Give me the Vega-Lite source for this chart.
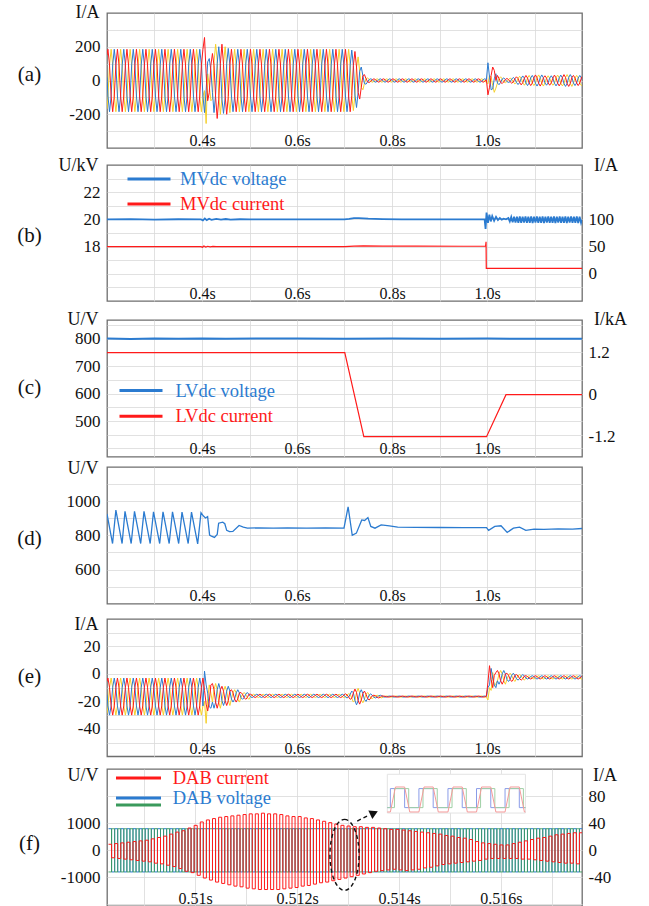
{
"$schema": "https://vega.github.io/schema/vega-lite/v6.json",
"background": "white",
"padding": {"left": 16, "top": 2, "right": 5, "bottom": 2},
"config": {
 "font": "Liberation Serif",
 "view": {"stroke": "#6e6e6e", "strokeWidth": 1.3},
 "style": {"guide-label": {"font": "Liberation Serif"}, "guide-title": {"font": "Liberation Serif"}},
 "axis": {"domain": false, "ticks": false, "tickSize": 0, "labelFont": "Liberation Serif", "labelFontSize": 17, "labelColor": "#111111", "titleFont": "Liberation Serif", "titleFontSize": 18, "titleFontWeight": "normal", "titleColor": "#111111", "gridColor": "#d9d9d9", "gridWidth": 0.8, "labelOverlap": false, "labelFlush": false, "titlePadding": 0},
 "axisX": {"labelFont": "Liberation Serif", "titleFont": "Liberation Serif", "labelFontSize": 16, "labelBaseline": "middle", "labelPadding": -8, "titleAlign": "right", "titleBaseline": "middle", "titleX": -8, "titleAngle": 0, "grid": true},
 "axisLeft": {"labelFont": "Liberation Serif", "titleFont": "Liberation Serif", "titleAngle": 0, "titleAlign": "center", "titleBaseline": "middle", "titleX": -78, "titleFontSize": 21, "labelPadding": 7, "grid": true},
 "axisRight": {"labelFont": "Liberation Serif", "titleFont": "Liberation Serif", "titleAngle": 0, "titleAlign": "center", "titleBaseline": "middle", "labelPadding": 6, "labelAlign": "left", "grid": false},
 "legend": {"labelFont": "Liberation Serif", "labelFontSize": 18.5, "padding": 0}
},
"datasets": {
 "main": [
{"t":0.2,"r":150,"y":-168,"b":18,"er":-5.6,"ey":-28.8,"eb":-15.2},
{"t":0.202,"r":185,"y":-92,"b":-92,"er":-3,"ey":-23.3,"eb":-23.3},
{"t":0.2053,"r":92,"y":92,"b":-185,"er":-9.8,"ey":-9.8,"eb":-30},
{"t":0.2087,"r":-92,"y":185,"b":-92,"er":-23.3,"ey":-3,"eb":-23.3},
{"t":0.212,"r":-185,"y":92,"b":92,"er":-30,"ey":-9.8,"eb":-9.8},
{"t":0.2153,"r":-92,"y":-92,"b":185,"er":-23.3,"ey":-23.3,"eb":-3},
{"t":0.2187,"r":92,"y":-185,"b":92,"er":-9.8,"ey":-30,"eb":-9.8},
{"t":0.222,"r":185,"y":-92,"b":-92,"er":-3,"ey":-23.3,"eb":-23.3},
{"t":0.2253,"r":92,"y":92,"b":-185,"er":-9.8,"ey":-9.8,"eb":-30},
{"t":0.2287,"r":-92,"y":185,"b":-92,"er":-23.3,"ey":-3,"eb":-23.3},
{"t":0.232,"r":-185,"y":92,"b":92,"er":-30,"ey":-9.8,"eb":-9.8},
{"t":0.2353,"r":-92,"y":-92,"b":185,"er":-23.3,"ey":-23.3,"eb":-3},
{"t":0.2387,"r":92,"y":-185,"b":92,"er":-9.8,"ey":-30,"eb":-9.8},
{"t":0.242,"r":185,"y":-92,"b":-92,"er":-3,"ey":-23.3,"eb":-23.3},
{"t":0.2453,"r":92,"y":92,"b":-185,"er":-9.8,"ey":-9.8,"eb":-30},
{"t":0.2487,"r":-92,"y":185,"b":-92,"er":-23.3,"ey":-3,"eb":-23.3},
{"t":0.252,"r":-185,"y":92,"b":92,"er":-30,"ey":-9.8,"eb":-9.8},
{"t":0.2553,"r":-92,"y":-92,"b":185,"er":-23.3,"ey":-23.3,"eb":-3},
{"t":0.2587,"r":92,"y":-185,"b":92,"er":-9.8,"ey":-30,"eb":-9.8},
{"t":0.262,"r":185,"y":-92,"b":-92,"er":-3,"ey":-23.3,"eb":-23.3},
{"t":0.2653,"r":92,"y":92,"b":-185,"er":-9.8,"ey":-9.8,"eb":-30},
{"t":0.2687,"r":-92,"y":185,"b":-92,"er":-23.3,"ey":-3,"eb":-23.3},
{"t":0.272,"r":-185,"y":92,"b":92,"er":-30,"ey":-9.8,"eb":-9.8},
{"t":0.2753,"r":-92,"y":-92,"b":185,"er":-23.3,"ey":-23.3,"eb":-3},
{"t":0.2787,"r":92,"y":-185,"b":92,"er":-9.8,"ey":-30,"eb":-9.8},
{"t":0.282,"r":185,"y":-92,"b":-92,"er":-3,"ey":-23.3,"eb":-23.3},
{"t":0.2853,"r":92,"y":92,"b":-185,"er":-9.8,"ey":-9.8,"eb":-30},
{"t":0.2887,"r":-92,"y":185,"b":-92,"er":-23.3,"ey":-3,"eb":-23.3},
{"t":0.292,"r":-185,"y":92,"b":92,"er":-30,"ey":-9.8,"eb":-9.8},
{"t":0.2953,"r":-92,"y":-92,"b":185,"er":-23.3,"ey":-23.3,"eb":-3},
{"t":0.2987,"r":92,"y":-185,"b":92,"er":-9.8,"ey":-30,"eb":-9.8},
{"t":0.302,"r":185,"y":-92,"b":-92,"er":-3,"ey":-23.3,"eb":-23.3},
{"t":0.3053,"r":92,"y":92,"b":-185,"er":-9.8,"ey":-9.8,"eb":-30},
{"t":0.3087,"r":-92,"y":185,"b":-92,"er":-23.3,"ey":-3,"eb":-23.3},
{"t":0.312,"r":-185,"y":92,"b":92,"er":-30,"ey":-9.8,"eb":-9.8},
{"t":0.3153,"r":-92,"y":-92,"b":185,"er":-23.3,"ey":-23.3,"eb":-3},
{"t":0.3187,"r":92,"y":-185,"b":92,"er":-9.8,"ey":-30,"eb":-9.8},
{"t":0.322,"r":185,"y":-92,"b":-92,"er":-3,"ey":-23.3,"eb":-23.3},
{"t":0.3253,"r":92,"y":92,"b":-185,"er":-9.8,"ey":-9.8,"eb":-30},
{"t":0.3287,"r":-92,"y":185,"b":-92,"er":-23.3,"ey":-3,"eb":-23.3},
{"t":0.332,"r":-185,"y":92,"b":92,"er":-30,"ey":-9.8,"eb":-9.8},
{"t":0.3353,"r":-92,"y":-92,"b":185,"er":-23.3,"ey":-23.3,"eb":-3},
{"t":0.3387,"r":92,"y":-185,"b":92,"er":-9.8,"ey":-30,"eb":-9.8},
{"t":0.342,"r":185,"y":-92,"b":-92,"er":-3,"ey":-23.3,"eb":-23.3},
{"t":0.3453,"r":92,"y":92,"b":-185,"er":-9.8,"ey":-9.8,"eb":-30},
{"t":0.3487,"r":-92,"y":185,"b":-92,"er":-23.3,"ey":-3,"eb":-23.3},
{"t":0.352,"r":-185,"y":92,"b":92,"er":-30,"ey":-9.8,"eb":-9.8},
{"t":0.3553,"r":-92,"y":-92,"b":185,"er":-23.3,"ey":-23.3,"eb":-3},
{"t":0.3587,"r":92,"y":-185,"b":92,"er":-9.8,"ey":-30,"eb":-9.8},
{"t":0.362,"r":185,"y":-92,"b":-92,"er":-3,"ey":-23.3,"eb":-23.3},
{"t":0.3653,"r":92,"y":92,"b":-185,"er":-9.8,"ey":-9.8,"eb":-30},
{"t":0.3687,"r":-92,"y":185,"b":-92,"er":-23.3,"ey":-3,"eb":-23.3},
{"t":0.372,"r":-185,"y":92,"b":92,"er":-30,"ey":-9.8,"eb":-9.8},
{"t":0.3753,"r":-92,"y":-92,"b":185,"er":-23.3,"ey":-23.3,"eb":-3},
{"t":0.3787,"r":92,"y":-185,"b":92,"er":-9.8,"ey":-30,"eb":-9.8},
{"t":0.382,"r":185,"y":-92,"b":-92,"er":-3,"ey":-23.3,"eb":-23.3},
{"t":0.3853,"r":92,"y":92,"b":-185,"er":-9.8,"ey":-9.8,"eb":-30},
{"t":0.3887,"r":-92,"y":185,"b":-92,"er":-23.3,"ey":-3,"eb":-23.3},
{"t":0.392,"r":-185,"y":92,"b":92,"er":-30,"ey":-9.8,"eb":-9.8},
{"t":0.3953,"r":-92,"y":-92,"b":185,"er":-23.3,"ey":-23.3,"eb":-3},
{"t":0.3987,"r":92,"y":-185,"b":92,"er":-9.8,"ey":-30,"eb":-9.8},
{"t":0.402,"r":185,"y":-92,"b":-92,"er":-3,"ey":-23.3,"eb":-23.3},
{"t":0.4053,"r":255,"y":-60,"b":-190,"er":-12,"ey":-20,"eb":2},
{"t":0.4087,"r":40,"y":-255,"b":-60,"er":-22,"ey":-36,"eb":-8},
{"t":0.412,"r":-120,"y":40,"b":110,"er":-27,"ey":-18,"eb":-14},
{"t":0.4153,"r":-70,"y":-30,"b":130,"er":-20,"ey":-8,"eb":-24},
{"t":0.4187,"r":90,"y":-120,"b":60,"er":-8,"ey":-14,"eb":-25},
{"t":0.422,"r":160,"y":-110,"b":-70,"er":-7,"ey":-20.5,"eb":-20.5},
{"t":0.4253,"r":90,"y":110,"b":-190,"er":-11.5,"ey":-11.5,"eb":-25},
{"t":0.4287,"r":-100,"y":215,"b":-80,"er":-20.5,"ey":-7,"eb":-20.5},
{"t":0.432,"r":-225,"y":120,"b":100,"er":-25,"ey":-11.5,"eb":-11.5},
{"t":0.4353,"r":-110,"y":-90,"b":200,"er":-20.5,"ey":-20.5,"eb":-7},
{"t":0.4387,"r":100,"y":-200,"b":90,"er":-11.5,"ey":-25,"eb":-11.5},
{"t":0.442,"r":215,"y":-100,"b":-110,"er":-9,"ey":-19.5,"eb":-19.5},
{"t":0.4453,"r":95,"y":100,"b":-195,"er":-12.5,"ey":-12.5,"eb":-23},
{"t":0.4487,"r":-90,"y":200,"b":-100,"er":-19.5,"ey":-9,"eb":-19.5},
{"t":0.452,"r":-200,"y":95,"b":100,"er":-23,"ey":-12.5,"eb":-12.5},
{"t":0.4553,"r":-95,"y":-95,"b":190,"er":-19.5,"ey":-19.5,"eb":-9},
{"t":0.4587,"r":92,"y":-190,"b":92,"er":-12.5,"ey":-23,"eb":-12.5},
{"t":0.462,"r":185,"y":-92,"b":-92,"er":-11.5,"ey":-18.3,"eb":-18.3},
{"t":0.4653,"r":92,"y":92,"b":-185,"er":-13.8,"ey":-13.8,"eb":-20.5},
{"t":0.4687,"r":-92,"y":185,"b":-92,"er":-18.3,"ey":-11.5,"eb":-18.3},
{"t":0.472,"r":-185,"y":92,"b":92,"er":-20.5,"ey":-13.8,"eb":-13.8},
{"t":0.4753,"r":-92,"y":-92,"b":185,"er":-18.3,"ey":-18.3,"eb":-11.5},
{"t":0.4787,"r":92,"y":-185,"b":92,"er":-13.8,"ey":-20.5,"eb":-13.8},
{"t":0.482,"r":185,"y":-92,"b":-92,"er":-13.5,"ey":-17.3,"eb":-17.3},
{"t":0.4853,"r":92,"y":92,"b":-185,"er":-14.8,"ey":-14.8,"eb":-18.5},
{"t":0.4887,"r":-92,"y":185,"b":-92,"er":-17.3,"ey":-13.5,"eb":-17.3},
{"t":0.492,"r":-185,"y":92,"b":92,"er":-18.5,"ey":-14.8,"eb":-14.8},
{"t":0.4953,"r":-92,"y":-92,"b":185,"er":-17.3,"ey":-17.3,"eb":-13.5},
{"t":0.4987,"r":92,"y":-185,"b":92,"er":-14.8,"ey":-18.5,"eb":-14.8},
{"t":0.502,"r":185,"y":-92,"b":-92,"er":-14.8,"ey":-16.6,"eb":-16.6},
{"t":0.5053,"r":92,"y":92,"b":-185,"er":-15.4,"ey":-15.4,"eb":-17.2},
{"t":0.5087,"r":-92,"y":185,"b":-92,"er":-16.6,"ey":-14.8,"eb":-16.6},
{"t":0.512,"r":-185,"y":92,"b":92,"er":-17.2,"ey":-15.4,"eb":-15.4},
{"t":0.5153,"r":-92,"y":-92,"b":185,"er":-16.6,"ey":-16.6,"eb":-14.8},
{"t":0.5187,"r":92,"y":-185,"b":92,"er":-15.4,"ey":-17.2,"eb":-15.4},
{"t":0.522,"r":185,"y":-92,"b":-92,"er":-14.8,"ey":-16.6,"eb":-16.6},
{"t":0.5253,"r":92,"y":92,"b":-185,"er":-15.4,"ey":-15.4,"eb":-17.2},
{"t":0.5287,"r":-92,"y":185,"b":-92,"er":-16.6,"ey":-14.8,"eb":-16.6},
{"t":0.532,"r":-185,"y":92,"b":92,"er":-17.2,"ey":-15.4,"eb":-15.4},
{"t":0.5353,"r":-92,"y":-92,"b":185,"er":-16.6,"ey":-16.6,"eb":-14.8},
{"t":0.5387,"r":92,"y":-185,"b":92,"er":-15.4,"ey":-17.2,"eb":-15.4},
{"t":0.542,"r":185,"y":-92,"b":-92,"er":-14.8,"ey":-16.6,"eb":-16.6},
{"t":0.5453,"r":92,"y":92,"b":-185,"er":-15.4,"ey":-15.4,"eb":-17.2},
{"t":0.5487,"r":-92,"y":185,"b":-92,"er":-16.6,"ey":-14.8,"eb":-16.6},
{"t":0.552,"r":-185,"y":92,"b":92,"er":-17.2,"ey":-15.4,"eb":-15.4},
{"t":0.5553,"r":-92,"y":-92,"b":185,"er":-16.6,"ey":-16.6,"eb":-14.8},
{"t":0.5587,"r":92,"y":-185,"b":92,"er":-15.4,"ey":-17.2,"eb":-15.4},
{"t":0.562,"r":185,"y":-92,"b":-92,"er":-14.8,"ey":-16.6,"eb":-16.6},
{"t":0.5653,"r":92,"y":92,"b":-185,"er":-15.4,"ey":-15.4,"eb":-17.2},
{"t":0.5687,"r":-92,"y":185,"b":-92,"er":-16.6,"ey":-14.8,"eb":-16.6},
{"t":0.572,"r":-185,"y":92,"b":92,"er":-17.2,"ey":-15.4,"eb":-15.4},
{"t":0.5753,"r":-92,"y":-92,"b":185,"er":-16.6,"ey":-16.6,"eb":-14.8},
{"t":0.5787,"r":92,"y":-185,"b":92,"er":-15.4,"ey":-17.2,"eb":-15.4},
{"t":0.582,"r":185,"y":-92,"b":-92,"er":-14.8,"ey":-16.6,"eb":-16.6},
{"t":0.5853,"r":92,"y":92,"b":-185,"er":-15.4,"ey":-15.4,"eb":-17.2},
{"t":0.5887,"r":-92,"y":185,"b":-92,"er":-16.6,"ey":-14.8,"eb":-16.6},
{"t":0.592,"r":-185,"y":92,"b":92,"er":-17.2,"ey":-15.4,"eb":-15.4},
{"t":0.5953,"r":-92,"y":-92,"b":185,"er":-16.6,"ey":-16.6,"eb":-14.8},
{"t":0.5987,"r":92,"y":-185,"b":92,"er":-15.4,"ey":-17.2,"eb":-15.4},
{"t":0.602,"r":185,"y":-92,"b":-92,"er":-14.8,"ey":-16.6,"eb":-16.6},
{"t":0.6053,"r":92,"y":92,"b":-185,"er":-15.4,"ey":-15.4,"eb":-17.2},
{"t":0.6087,"r":-92,"y":185,"b":-92,"er":-16.6,"ey":-14.8,"eb":-16.6},
{"t":0.612,"r":-185,"y":92,"b":92,"er":-17.2,"ey":-15.4,"eb":-15.4},
{"t":0.6153,"r":-92,"y":-92,"b":185,"er":-16.6,"ey":-16.6,"eb":-14.8},
{"t":0.6187,"r":92,"y":-185,"b":92,"er":-15.4,"ey":-17.2,"eb":-15.4},
{"t":0.622,"r":185,"y":-92,"b":-92,"er":-14.8,"ey":-16.6,"eb":-16.6},
{"t":0.6253,"r":92,"y":92,"b":-185,"er":-15.4,"ey":-15.4,"eb":-17.2},
{"t":0.6287,"r":-92,"y":185,"b":-92,"er":-16.6,"ey":-14.8,"eb":-16.6},
{"t":0.632,"r":-185,"y":92,"b":92,"er":-17.2,"ey":-15.4,"eb":-15.4},
{"t":0.6353,"r":-92,"y":-92,"b":185,"er":-16.6,"ey":-16.6,"eb":-14.8},
{"t":0.6387,"r":92,"y":-185,"b":92,"er":-15.4,"ey":-17.2,"eb":-15.4},
{"t":0.642,"r":185,"y":-92,"b":-92,"er":-14.8,"ey":-16.6,"eb":-16.6},
{"t":0.6453,"r":92,"y":92,"b":-185,"er":-15.4,"ey":-15.4,"eb":-17.2},
{"t":0.6487,"r":-92,"y":185,"b":-92,"er":-16.6,"ey":-14.8,"eb":-16.6},
{"t":0.652,"r":-185,"y":92,"b":92,"er":-17.2,"ey":-15.4,"eb":-15.4},
{"t":0.6553,"r":-92,"y":-92,"b":185,"er":-16.6,"ey":-16.6,"eb":-14.8},
{"t":0.6587,"r":92,"y":-185,"b":92,"er":-15.4,"ey":-17.2,"eb":-15.4},
{"t":0.662,"r":185,"y":-92,"b":-92,"er":-14.8,"ey":-16.6,"eb":-16.6},
{"t":0.6653,"r":92,"y":92,"b":-185,"er":-15.4,"ey":-15.4,"eb":-17.2},
{"t":0.6687,"r":-92,"y":185,"b":-92,"er":-16.6,"ey":-14.8,"eb":-16.6},
{"t":0.672,"r":-185,"y":92,"b":92,"er":-17.2,"ey":-15.4,"eb":-15.4},
{"t":0.6753,"r":-92,"y":-92,"b":185,"er":-16.6,"ey":-16.6,"eb":-14.8},
{"t":0.6787,"r":92,"y":-185,"b":92,"er":-15.4,"ey":-17.2,"eb":-15.4},
{"t":0.682,"r":185,"y":-92,"b":-92,"er":-14.8,"ey":-16.6,"eb":-16.6},
{"t":0.6853,"r":92,"y":92,"b":-185,"er":-15.4,"ey":-15.4,"eb":-17.2},
{"t":0.6887,"r":-92,"y":185,"b":-92,"er":-16.6,"ey":-14.8,"eb":-16.6},
{"t":0.692,"r":-185,"y":92,"b":92,"er":-17.2,"ey":-15.4,"eb":-15.4},
{"t":0.6953,"r":-92,"y":-92,"b":185,"er":-16.6,"ey":-16.6,"eb":-14.8},
{"t":0.6987,"r":92,"y":-185,"b":92,"er":-15.4,"ey":-17.2,"eb":-15.4},
{"t":0.702,"r":185,"y":-92,"b":-92,"er":-14.5,"ey":-16.8,"eb":-16.8},
{"t":0.7053,"r":92,"y":92,"b":-185,"er":-15.3,"ey":-15.3,"eb":-17.5},
{"t":0.7087,"r":-92,"y":185,"b":-92,"er":-16.8,"ey":-14.5,"eb":-16.8},
{"t":0.712,"r":-185,"y":92,"b":92,"er":-18.5,"ey":-14.8,"eb":-14.8},
{"t":0.7153,"r":-90,"y":-90,"b":180,"er":-17.8,"ey":-17.8,"eb":-12.5},
{"t":0.7187,"r":89,"y":-178,"b":89,"er":-13.8,"ey":-20.5,"eb":-13.8},
{"t":0.722,"r":172,"y":-86,"b":-86,"er":-11,"ey":-19.3,"eb":-19.3},
{"t":0.7253,"r":80,"y":80,"b":-160,"er":-13.5,"ey":-13.5,"eb":-22.5},
{"t":0.7287,"r":-70,"y":140,"b":-70,"er":-19.5,"ey":-10.5,"eb":-19.5},
{"t":0.732,"r":-110,"y":55,"b":55,"er":-22,"ey":-13.8,"eb":-13.8},
{"t":0.7353,"r":-40,"y":-40,"b":80,"er":-19,"ey":-19,"eb":-11.5},
{"t":0.7387,"r":28,"y":-55,"b":28,"er":-14.3,"ey":-21,"eb":-14.3},
{"t":0.742,"r":35,"y":-18,"b":-18,"er":-12.5,"ey":-18.5,"eb":-18.5},
{"t":0.7453,"r":11,"y":11,"b":-22,"er":-14.8,"ey":-14.8,"eb":-20},
{"t":0.7487,"r":-8,"y":15,"b":-8,"er":-18,"ey":-13.5,"eb":-18},
{"t":0.752,"r":-12,"y":6,"b":6,"er":-19,"ey":-15.3,"eb":-15.3},
{"t":0.7553,"r":-5,"y":-5,"b":10,"er":-17.5,"ey":-17.5,"eb":-14.5},
{"t":0.7587,"r":5,"y":-10,"b":5,"er":-15.8,"ey":-18,"eb":-15.8},
{"t":0.762,"r":10,"y":-5,"b":-5,"er":-15.5,"ey":-17,"eb":-17},
{"t":0.7653,"r":5,"y":5,"b":-10,"er":-16,"ey":-16,"eb":-17.5},
{"t":0.7687,"r":-5,"y":10,"b":-5,"er":-17,"ey":-15.5,"eb":-17},
{"t":0.772,"r":-10,"y":5,"b":5,"er":-17.5,"ey":-16,"eb":-16},
{"t":0.7753,"r":-5,"y":-5,"b":10,"er":-17,"ey":-17,"eb":-15.5},
{"t":0.7787,"r":5,"y":-10,"b":5,"er":-16,"ey":-17.5,"eb":-16},
{"t":0.782,"r":10,"y":-5,"b":-5,"er":-16.1,"ey":-16.7,"eb":-16.7},
{"t":0.7853,"r":5,"y":5,"b":-10,"er":-16.3,"ey":-16.3,"eb":-16.9},
{"t":0.7887,"r":-5,"y":10,"b":-5,"er":-16.7,"ey":-16.1,"eb":-16.7},
{"t":0.792,"r":-10,"y":5,"b":5,"er":-16.9,"ey":-16.3,"eb":-16.3},
{"t":0.7953,"r":-5,"y":-5,"b":10,"er":-16.7,"ey":-16.7,"eb":-16.1},
{"t":0.7987,"r":5,"y":-10,"b":5,"er":-16.3,"ey":-16.9,"eb":-16.3},
{"t":0.802,"r":10,"y":-5,"b":-5,"er":-16.1,"ey":-16.7,"eb":-16.7},
{"t":0.8053,"r":5,"y":5,"b":-10,"er":-16.3,"ey":-16.3,"eb":-16.9},
{"t":0.8087,"r":-5,"y":10,"b":-5,"er":-16.7,"ey":-16.1,"eb":-16.7},
{"t":0.812,"r":-10,"y":5,"b":5,"er":-16.9,"ey":-16.3,"eb":-16.3},
{"t":0.8153,"r":-5,"y":-5,"b":10,"er":-16.7,"ey":-16.7,"eb":-16.1},
{"t":0.8187,"r":5,"y":-10,"b":5,"er":-16.3,"ey":-16.9,"eb":-16.3},
{"t":0.822,"r":10,"y":-5,"b":-5,"er":-16.1,"ey":-16.7,"eb":-16.7},
{"t":0.8253,"r":5,"y":5,"b":-10,"er":-16.3,"ey":-16.3,"eb":-16.9},
{"t":0.8287,"r":-5,"y":10,"b":-5,"er":-16.7,"ey":-16.1,"eb":-16.7},
{"t":0.832,"r":-10,"y":5,"b":5,"er":-16.9,"ey":-16.3,"eb":-16.3},
{"t":0.8353,"r":-5,"y":-5,"b":10,"er":-16.7,"ey":-16.7,"eb":-16.1},
{"t":0.8387,"r":5,"y":-10,"b":5,"er":-16.3,"ey":-16.9,"eb":-16.3},
{"t":0.842,"r":10,"y":-5,"b":-5,"er":-16.1,"ey":-16.7,"eb":-16.7},
{"t":0.8453,"r":5,"y":5,"b":-10,"er":-16.3,"ey":-16.3,"eb":-16.9},
{"t":0.8487,"r":-5,"y":10,"b":-5,"er":-16.7,"ey":-16.1,"eb":-16.7},
{"t":0.852,"r":-10,"y":5,"b":5,"er":-16.9,"ey":-16.3,"eb":-16.3},
{"t":0.8553,"r":-5,"y":-5,"b":10,"er":-16.7,"ey":-16.7,"eb":-16.1},
{"t":0.8587,"r":5,"y":-10,"b":5,"er":-16.3,"ey":-16.9,"eb":-16.3},
{"t":0.862,"r":10,"y":-5,"b":-5,"er":-16.1,"ey":-16.7,"eb":-16.7},
{"t":0.8653,"r":5,"y":5,"b":-10,"er":-16.3,"ey":-16.3,"eb":-16.9},
{"t":0.8687,"r":-5,"y":10,"b":-5,"er":-16.7,"ey":-16.1,"eb":-16.7},
{"t":0.872,"r":-10,"y":5,"b":5,"er":-16.9,"ey":-16.3,"eb":-16.3},
{"t":0.8753,"r":-5,"y":-5,"b":10,"er":-16.7,"ey":-16.7,"eb":-16.1},
{"t":0.8787,"r":5,"y":-10,"b":5,"er":-16.3,"ey":-16.9,"eb":-16.3},
{"t":0.882,"r":10,"y":-5,"b":-5,"er":-16.1,"ey":-16.7,"eb":-16.7},
{"t":0.8853,"r":5,"y":5,"b":-10,"er":-16.3,"ey":-16.3,"eb":-16.9},
{"t":0.8887,"r":-5,"y":10,"b":-5,"er":-16.7,"ey":-16.1,"eb":-16.7},
{"t":0.892,"r":-10,"y":5,"b":5,"er":-16.9,"ey":-16.3,"eb":-16.3},
{"t":0.8953,"r":-5,"y":-5,"b":10,"er":-16.7,"ey":-16.7,"eb":-16.1},
{"t":0.8987,"r":5,"y":-10,"b":5,"er":-16.3,"ey":-16.9,"eb":-16.3},
{"t":0.902,"r":10,"y":-5,"b":-5,"er":-16.1,"ey":-16.7,"eb":-16.7},
{"t":0.9053,"r":5,"y":5,"b":-10,"er":-16.3,"ey":-16.3,"eb":-16.9},
{"t":0.9087,"r":-5,"y":10,"b":-5,"er":-16.7,"ey":-16.1,"eb":-16.7},
{"t":0.912,"r":-10,"y":5,"b":5,"er":-16.9,"ey":-16.3,"eb":-16.3},
{"t":0.9153,"r":-5,"y":-5,"b":10,"er":-16.7,"ey":-16.7,"eb":-16.1},
{"t":0.9187,"r":5,"y":-10,"b":5,"er":-16.3,"ey":-16.9,"eb":-16.3},
{"t":0.922,"r":10,"y":-5,"b":-5,"er":-16.1,"ey":-16.7,"eb":-16.7},
{"t":0.9253,"r":5,"y":5,"b":-10,"er":-16.3,"ey":-16.3,"eb":-16.9},
{"t":0.9287,"r":-5,"y":10,"b":-5,"er":-16.7,"ey":-16.1,"eb":-16.7},
{"t":0.932,"r":-10,"y":5,"b":5,"er":-16.9,"ey":-16.3,"eb":-16.3},
{"t":0.9353,"r":-5,"y":-5,"b":10,"er":-16.7,"ey":-16.7,"eb":-16.1},
{"t":0.9387,"r":5,"y":-10,"b":5,"er":-16.3,"ey":-16.9,"eb":-16.3},
{"t":0.942,"r":10,"y":-5,"b":-5,"er":-16.1,"ey":-16.7,"eb":-16.7},
{"t":0.9453,"r":5,"y":5,"b":-10,"er":-16.3,"ey":-16.3,"eb":-16.9},
{"t":0.9487,"r":-5,"y":10,"b":-5,"er":-16.7,"ey":-16.1,"eb":-16.7},
{"t":0.952,"r":-10,"y":5,"b":5,"er":-16.9,"ey":-16.3,"eb":-16.3},
{"t":0.9553,"r":-5,"y":-5,"b":10,"er":-16.7,"ey":-16.7,"eb":-16.1},
{"t":0.9587,"r":5,"y":-10,"b":5,"er":-16.3,"ey":-16.9,"eb":-16.3},
{"t":0.962,"r":10,"y":-5,"b":-5,"er":-16.1,"ey":-16.7,"eb":-16.7},
{"t":0.9653,"r":5,"y":5,"b":-10,"er":-16.3,"ey":-16.3,"eb":-16.9},
{"t":0.9687,"r":-5,"y":10,"b":-5,"er":-16.7,"ey":-16.1,"eb":-16.7},
{"t":0.972,"r":-10,"y":5,"b":5,"er":-16.9,"ey":-16.3,"eb":-16.3},
{"t":0.9753,"r":-5,"y":-5,"b":10,"er":-16.7,"ey":-16.7,"eb":-16.1},
{"t":0.9787,"r":5,"y":-10,"b":5,"er":-16.3,"ey":-16.9,"eb":-16.3},
{"t":0.982,"r":10,"y":-5,"b":-5,"er":-16.1,"ey":-16.7,"eb":-16.7},
{"t":0.9853,"r":5,"y":5,"b":-10,"er":-16.3,"ey":-16.3,"eb":-16.9},
{"t":0.9887,"r":-5,"y":10,"b":-5,"er":-16.7,"ey":-16.1,"eb":-16.7},
{"t":0.992,"r":-10,"y":5,"b":5,"er":-16.9,"ey":-16.3,"eb":-16.3},
{"t":0.9953,"r":-5,"y":-5,"b":10,"er":-16.7,"ey":-16.7,"eb":-16.1},
{"t":0.9987,"r":5,"y":-10,"b":5,"er":-16.3,"ey":-16.9,"eb":-16.3},
{"t":1.002,"r":-85,"y":-20,"b":105,"er":-6,"ey":-19,"eb":-10},
{"t":1.0053,"r":-40,"y":30,"b":20,"er":6,"ey":-10,"eb":-8},
{"t":1.0087,"r":30,"y":20,"b":-55,"er":-4,"ey":-12,"eb":4},
{"t":1.012,"r":80,"y":-30,"b":-50,"er":-10,"ey":1,"eb":-3},
{"t":1.0153,"r":60,"y":-70,"b":10,"er":-1,"ey":-9,"eb":-8},
{"t":1.0187,"r":0,"y":-45,"b":40,"er":1,"ey":-7,"eb":-10},
{"t":1.022,"r":30,"y":-15,"b":-15,"er":2.5,"ey":-5,"eb":-5},
{"t":1.0253,"r":12,"y":12,"b":-25,"er":0,"ey":0,"eb":-7.5},
{"t":1.0287,"r":-11,"y":22,"b":-11,"er":-5,"ey":2.5,"eb":-5},
{"t":1.032,"r":-18,"y":9,"b":9,"er":-7.5,"ey":0,"eb":0},
{"t":1.0353,"r":-8,"y":-8,"b":15,"er":-5,"ey":-5,"eb":2.5},
{"t":1.0387,"r":6,"y":-13,"b":6,"er":0,"ey":-7.5,"eb":0},
{"t":1.042,"r":12,"y":-6,"b":-6,"er":0.5,"ey":-4,"eb":-4},
{"t":1.0453,"r":6,"y":6,"b":-12,"er":-1,"ey":-1,"eb":-5.5},
{"t":1.0487,"r":-7,"y":14,"b":-7,"er":-4,"ey":0.5,"eb":-4},
{"t":1.052,"r":-16,"y":8,"b":8,"er":-5.5,"ey":-1,"eb":-1},
{"t":1.0553,"r":-9,"y":-9,"b":18,"er":-4,"ey":-4,"eb":0.5},
{"t":1.0587,"r":10,"y":-20,"b":10,"er":-1,"ey":-5.5,"eb":-1},
{"t":1.062,"r":22,"y":-11,"b":-11,"er":-0.5,"ey":-3.5,"eb":-3.5},
{"t":1.0653,"r":12,"y":12,"b":-24,"er":-1.5,"ey":-1.5,"eb":-4.5},
{"t":1.0687,"r":-12,"y":25,"b":-12,"er":-3.5,"ey":-0.5,"eb":-3.5},
{"t":1.072,"r":-26,"y":13,"b":13,"er":-4.5,"ey":-1.5,"eb":-1.5},
{"t":1.0753,"r":-13,"y":-13,"b":27,"er":-3.5,"ey":-3.5,"eb":-0.5},
{"t":1.0787,"r":14,"y":-28,"b":14,"er":-1.5,"ey":-4.5,"eb":-1.5},
{"t":1.082,"r":30,"y":-15,"b":-15,"er":-1.3,"ey":-3.1,"eb":-3.1},
{"t":1.0853,"r":15,"y":15,"b":-30,"er":-1.9,"ey":-1.9,"eb":-3.7},
{"t":1.0887,"r":-15,"y":30,"b":-15,"er":-3.1,"ey":-1.3,"eb":-3.1},
{"t":1.092,"r":-30,"y":15,"b":15,"er":-3.7,"ey":-1.9,"eb":-1.9},
{"t":1.0953,"r":-15,"y":-15,"b":30,"er":-3.1,"ey":-3.1,"eb":-1.3},
{"t":1.0987,"r":15,"y":-30,"b":15,"er":-1.9,"ey":-3.7,"eb":-1.9},
{"t":1.102,"r":33,"y":-16,"b":-16,"er":-1.3,"ey":-3.1,"eb":-3.1},
{"t":1.1053,"r":16,"y":16,"b":-33,"er":-1.9,"ey":-1.9,"eb":-3.7},
{"t":1.1087,"r":-16,"y":33,"b":-16,"er":-3.1,"ey":-1.3,"eb":-3.1},
{"t":1.112,"r":-33,"y":16,"b":16,"er":-3.7,"ey":-1.9,"eb":-1.9},
{"t":1.1153,"r":-16,"y":-16,"b":33,"er":-3.1,"ey":-3.1,"eb":-1.3},
{"t":1.1187,"r":16,"y":-33,"b":16,"er":-1.9,"ey":-3.7,"eb":-1.9},
{"t":1.122,"r":28,"y":-14,"b":-14,"er":-1.3,"ey":-3.1,"eb":-3.1},
{"t":1.1253,"r":14,"y":14,"b":-28,"er":-1.9,"ey":-1.9,"eb":-3.7},
{"t":1.1287,"r":-14,"y":28,"b":-14,"er":-3.1,"ey":-1.3,"eb":-3.1},
{"t":1.132,"r":-28,"y":14,"b":14,"er":-3.7,"ey":-1.9,"eb":-1.9},
{"t":1.1353,"r":-14,"y":-14,"b":28,"er":-3.1,"ey":-3.1,"eb":-1.3},
{"t":1.1387,"r":14,"y":-28,"b":14,"er":-1.9,"ey":-3.7,"eb":-1.9},
{"t":1.142,"r":32,"y":-16,"b":-16,"er":-1.3,"ey":-3.1,"eb":-3.1},
{"t":1.1453,"r":16,"y":16,"b":-32,"er":-1.9,"ey":-1.9,"eb":-3.7},
{"t":1.1487,"r":-16,"y":32,"b":-16,"er":-3.1,"ey":-1.3,"eb":-3.1},
{"t":1.152,"r":-32,"y":16,"b":16,"er":-3.7,"ey":-1.9,"eb":-1.9},
{"t":1.1553,"r":-16,"y":-16,"b":32,"er":-3.1,"ey":-3.1,"eb":-1.3},
{"t":1.1587,"r":16,"y":-32,"b":16,"er":-1.9,"ey":-3.7,"eb":-1.9},
{"t":1.162,"r":35,"y":-18,"b":-18,"er":-1.3,"ey":-3.1,"eb":-3.1},
{"t":1.1653,"r":18,"y":18,"b":-35,"er":-1.9,"ey":-1.9,"eb":-3.7},
{"t":1.1687,"r":-18,"y":35,"b":-18,"er":-3.1,"ey":-1.3,"eb":-3.1},
{"t":1.172,"r":-35,"y":18,"b":18,"er":-3.7,"ey":-1.9,"eb":-1.9},
{"t":1.1753,"r":-18,"y":-18,"b":35,"er":-3.1,"ey":-3.1,"eb":-1.3},
{"t":1.1787,"r":18,"y":-35,"b":18,"er":-1.9,"ey":-3.7,"eb":-1.9},
{"t":1.182,"r":30,"y":-15,"b":-15,"er":-1.3,"ey":-3.1,"eb":-3.1},
{"t":1.1853,"r":15,"y":15,"b":-30,"er":-1.9,"ey":-1.9,"eb":-3.7},
{"t":1.1887,"r":-15,"y":30,"b":-15,"er":-3.1,"ey":-1.3,"eb":-3.1},
{"t":1.192,"r":-30,"y":15,"b":15,"er":-3.7,"ey":-1.9,"eb":-1.9},
{"t":1.1953,"r":-15,"y":-15,"b":30,"er":-3.1,"ey":-3.1,"eb":-1.3},
{"t":1.1987,"r":15,"y":-30,"b":15,"er":-1.9,"ey":-3.7,"eb":-1.9},
{"t":1.2,"r":24,"y":-27,"b":3,"er":-1.5,"ey":-3.6,"eb":-2.4}
 ],
 "bu": [
{"t":0.2,"v":20.0},{"t":0.25,"v":20.02},{"t":0.3,"v":19.98},{"t":0.35,"v":20.01},{"t":0.398,"v":20.0},{"t":0.402,"v":19.92},{"t":0.406,"v":20.07},{"t":0.41,"v":19.95},{"t":0.415,"v":20.05},{"t":0.42,"v":19.97},{"t":0.43,"v":20.04},{"t":0.44,"v":19.98},{"t":0.45,"v":20.03},{"t":0.46,"v":19.99},{"t":0.48,"v":20.01},{"t":0.5,"v":20.0},{"t":0.6,"v":20.0},{"t":0.7,"v":20.0},{"t":0.71,"v":20.04},{"t":0.72,"v":20.1},{"t":0.73,"v":20.09},{"t":0.75,"v":20.05},{"t":0.78,"v":20.02},{"t":0.82,"v":20.0},{"t":0.9,"v":20.0},{"t":0.995,"v":20.0},{"t":0.997,"v":19.3},{"t":0.999,"v":20.5},{"t":1.002,"v":19.75},{"t":1.005,"v":20.35},{"t":1.008,"v":19.85},{"t":1.011,"v":20.25},{"t":1.015,"v":19.9},{"t":1.019,"v":20.18},{"t":1.023,"v":19.95},{"t":1.027,"v":20.1},{"t":1.031,"v":19.98},{"t":1.035,"v":20.05},{"t":1.04,"v":20.0},{"t":1.045,"v":20.1},{"t":1.048,"v":19.85},
{"t":1.051,"v":20.18},{"t":1.054,"v":19.78},{"t":1.057,"v":20.2},{"t":1.06,"v":19.76},{"t":1.063,"v":20.2},{"t":1.066,"v":19.75},{"t":1.069,"v":20.22},{"t":1.072,"v":19.75},{"t":1.075,"v":20.2},{"t":1.078,"v":19.76},{"t":1.081,"v":20.21},{"t":1.084,"v":19.75},{"t":1.087,"v":20.2},{"t":1.09,"v":19.75},{"t":1.093,"v":20.22},{"t":1.096,"v":19.74},{"t":1.099,"v":20.2},{"t":1.102,"v":19.76},{"t":1.105,"v":20.21},{"t":1.108,"v":19.75},{"t":1.111,"v":20.2},{"t":1.114,"v":19.75},{"t":1.117,"v":20.22},{"t":1.12,"v":19.74},{"t":1.123,"v":20.2},{"t":1.126,"v":19.76},{"t":1.129,"v":20.21},{"t":1.132,"v":19.75},{"t":1.135,"v":20.2},{"t":1.138,"v":19.75},{"t":1.141,"v":20.22},{"t":1.144,"v":19.74},{"t":1.147,"v":20.2},{"t":1.15,"v":19.76},{"t":1.153,"v":20.21},{"t":1.156,"v":19.75},{"t":1.159,"v":20.2},{"t":1.162,"v":19.75},{"t":1.165,"v":20.22},{"t":1.168,"v":19.74},{"t":1.171,"v":20.2},{"t":1.174,"v":19.76},{"t":1.177,"v":20.21},{"t":1.18,"v":19.75},{"t":1.183,"v":20.2},{"t":1.186,"v":19.75},{"t":1.189,"v":20.22},{"t":1.192,"v":19.74},{"t":1.195,"v":20.2},{"t":1.198,"v":19.76},{"t":1.2,"v":20.0}
 ],
 "bi": [
{"t":0.2,"v":50},{"t":0.398,"v":50},{"t":0.401,"v":48.8},{"t":0.404,"v":51},{"t":0.408,"v":49.3},{"t":0.412,"v":50.6},{"t":0.417,"v":49.6},{"t":0.423,"v":50.3},{"t":0.43,"v":50},{"t":0.7,"v":50},{"t":0.72,"v":50.8},{"t":0.74,"v":51.2},{"t":0.78,"v":51},{"t":0.85,"v":50.8},{"t":0.95,"v":50.6},{"t":0.997,"v":50.6},{"t":0.998,"v":59},{"t":0.9985,"v":10},{"t":1.2,"v":10}
 ],
 "cu": [
{"t":0.2,"v":801},{"t":0.25,"v":799},{"t":0.3,"v":801},{"t":0.35,"v":799.5},{"t":0.4,"v":801},{"t":0.45,"v":800},{"t":0.6,"v":800.5},{"t":0.7,"v":799.5},{"t":0.8,"v":800.5},{"t":0.9,"v":799.5},{"t":1.0,"v":800.5},{"t":1.1,"v":799.5},{"t":1.2,"v":800}
 ],
 "ci": [
{"t":0.2,"v":1.2},{"t":0.7006,"v":1.2},{"t":0.7407,"v":-1.2},{"t":0.999,"v":-1.2},{"t":1.04,"v":0},{"t":1.2,"v":0}
 ],
 "d": [
{"t":0.2,"v":925},{"t":0.2117,"v":752},{"t":0.2187,"v":948},{"t":0.2318,"v":752},{"t":0.2379,"v":940},{"t":0.2509,"v":752},{"t":0.2579,"v":940},{"t":0.2709,"v":752},{"t":0.2779,"v":940},{"t":0.2909,"v":752},{"t":0.2979,"v":938},{"t":0.3109,"v":752},{"t":0.3179,"v":938},{"t":0.3309,"v":752},{"t":0.3379,"v":938},{"t":0.3509,"v":752},{"t":0.3579,"v":936},{"t":0.3709,"v":752},{"t":0.3779,"v":936},{"t":0.3909,"v":750},{"t":0.3979,"v":932},{"t":0.4031,"v":913},{"t":0.4074,"v":902},{"t":0.4118,"v":910},{"t":0.416,"v":802},{"t":0.42,"v":795},{"t":0.4262,"v":788},{"t":0.432,"v":805},{"t":0.435,"v":871},{"t":0.4437,"v":877},{"t":0.448,"v":868},{"t":0.452,"v":829},{"t":0.458,"v":822},{"t":0.465,"v":823},{"t":0.478,"v":858},{"t":0.487,"v":848},{"t":0.4957,"v":842},{"t":0.52,"v":844},{"t":0.55,"v":842},{"t":0.58,"v":844},{"t":0.62,"v":842},{"t":0.66,"v":843},{"t":0.6989,"v":842},{"t":0.7076,"v":967},{"t":0.7163,"v":800},{"t":0.725,"v":813},{"t":0.7363,"v":890},{"t":0.7423,"v":887},{"t":0.7493,"v":904},{"t":0.7554,"v":852},{"t":0.7642,"v":842},{"t":0.7772,"v":861},{"t":0.7946,"v":856},{"t":0.812,"v":848},{"t":0.85,"v":847},{"t":0.9,"v":846},{"t":0.95,"v":845},{"t":0.999,"v":845},{"t":1.0034,"v":829},{"t":1.0164,"v":852},{"t":1.0295,"v":856},{"t":1.0425,"v":817},{"t":1.0556,"v":842},{"t":1.0686,"v":848},{"t":1.0817,"v":829},{"t":1.0992,"v":836},{"t":1.12,"v":835},{"t":1.15,"v":838},{"t":1.18,"v":836},{"t":1.2,"v":840}
 ],
 "f": [
{"t":0.5083,"b":800,"g":-800,"r":9},{"t":0.50836,"b":-800,"g":800,"r":-11},{"t":0.50842,"b":800,"g":-800,"r":10},{"t":0.50848,"b":-800,"g":800,"r":-12},{"t":0.50854,"b":800,"g":-800,"r":11},{"t":0.5086,"b":-800,"g":800,"r":-13},{"t":0.50866,"b":800,"g":-800,"r":12},{"t":0.50872,"b":-800,"g":800,"r":-14},{"t":0.50878,"b":800,"g":-800,"r":13},{"t":0.50884,"b":-800,"g":800,"r":-15},
{"t":0.5089,"b":800,"g":-800,"r":14},{"t":0.50896,"b":-800,"g":800,"r":-16},{"t":0.50902,"b":800,"g":-800,"r":15},{"t":0.50908,"b":-800,"g":800,"r":-17},{"t":0.50914,"b":800,"g":-800,"r":17},{"t":0.5092,"b":-800,"g":800,"r":-19},{"t":0.50926,"b":800,"g":-800,"r":19},{"t":0.50932,"b":-800,"g":800,"r":-20},{"t":0.50938,"b":800,"g":-800,"r":21},{"t":0.50944,"b":-800,"g":800,"r":-22},
{"t":0.5095,"b":800,"g":-800,"r":24},{"t":0.50956,"b":-800,"g":800,"r":-24},{"t":0.50962,"b":800,"g":-800,"r":27},{"t":0.50968,"b":-800,"g":800,"r":-27},{"t":0.50974,"b":800,"g":-800,"r":29},{"t":0.5098,"b":-800,"g":800,"r":-31},{"t":0.50986,"b":800,"g":-800,"r":33},{"t":0.50992,"b":-800,"g":800,"r":-33},{"t":0.50998,"b":800,"g":-800,"r":37},{"t":0.51004,"b":-800,"g":800,"r":-37},
{"t":0.5101,"b":800,"g":-800,"r":42},{"t":0.51016,"b":-800,"g":800,"r":-41},{"t":0.51022,"b":800,"g":-800,"r":45},{"t":0.51028,"b":-800,"g":800,"r":-44},{"t":0.51034,"b":800,"g":-800,"r":47},{"t":0.5104,"b":-800,"g":800,"r":-47},{"t":0.51046,"b":800,"g":-800,"r":49},{"t":0.51052,"b":-800,"g":800,"r":-49},{"t":0.51058,"b":800,"g":-800,"r":50},{"t":0.51064,"b":-800,"g":800,"r":-51},
{"t":0.5107,"b":800,"g":-800,"r":51},{"t":0.51076,"b":-800,"g":800,"r":-53},{"t":0.51082,"b":800,"g":-800,"r":52},{"t":0.51088,"b":-800,"g":800,"r":-54},{"t":0.51094,"b":800,"g":-800,"r":53},{"t":0.511,"b":-800,"g":800,"r":-56},{"t":0.51106,"b":800,"g":-800,"r":54},{"t":0.51112,"b":-800,"g":800,"r":-57},{"t":0.51118,"b":800,"g":-800,"r":54},{"t":0.51124,"b":-800,"g":800,"r":-58},
{"t":0.5113,"b":800,"g":-800,"r":55},{"t":0.51136,"b":-800,"g":800,"r":-58},{"t":0.51142,"b":800,"g":-800,"r":54},{"t":0.51148,"b":-800,"g":800,"r":-58},{"t":0.51154,"b":800,"g":-800,"r":54},{"t":0.5116,"b":-800,"g":800,"r":-58},{"t":0.51166,"b":800,"g":-800,"r":53},{"t":0.51172,"b":-800,"g":800,"r":-57},{"t":0.51178,"b":800,"g":-800,"r":51},{"t":0.51184,"b":-800,"g":800,"r":-56},
{"t":0.5119,"b":800,"g":-800,"r":50},{"t":0.51196,"b":-800,"g":800,"r":-55},{"t":0.51202,"b":800,"g":-800,"r":50},{"t":0.51208,"b":-800,"g":800,"r":-53},{"t":0.51214,"b":800,"g":-800,"r":48},{"t":0.5122,"b":-800,"g":800,"r":-52},{"t":0.51226,"b":800,"g":-800,"r":47},{"t":0.51232,"b":-800,"g":800,"r":-50},{"t":0.51238,"b":800,"g":-800,"r":45},{"t":0.51244,"b":-800,"g":800,"r":-48},
{"t":0.5125,"b":800,"g":-800,"r":43},{"t":0.51256,"b":-800,"g":800,"r":-47},{"t":0.51262,"b":800,"g":-800,"r":41},{"t":0.51268,"b":-800,"g":800,"r":-45},{"t":0.51274,"b":800,"g":-800,"r":39},{"t":0.5128,"b":-800,"g":800,"r":-43},{"t":0.51286,"b":800,"g":-800,"r":37},{"t":0.51292,"b":-800,"g":800,"r":-41},{"t":0.51298,"b":800,"g":-800,"r":36},{"t":0.51304,"b":-800,"g":800,"r":-39},
{"t":0.5131,"b":800,"g":-800,"r":35},{"t":0.51316,"b":-800,"g":800,"r":-37},{"t":0.51322,"b":800,"g":-800,"r":35},{"t":0.51328,"b":-800,"g":800,"r":-35},{"t":0.51334,"b":800,"g":-800,"r":34},{"t":0.5134,"b":-800,"g":800,"r":-33},{"t":0.51346,"b":800,"g":-800,"r":34},{"t":0.51352,"b":-800,"g":800,"r":-31},{"t":0.51358,"b":800,"g":-800,"r":33},{"t":0.51364,"b":-800,"g":800,"r":-30},
{"t":0.5137,"b":800,"g":-800,"r":32},{"t":0.51376,"b":-800,"g":800,"r":-29},{"t":0.51382,"b":800,"g":-800,"r":31},{"t":0.51388,"b":-800,"g":800,"r":-28},{"t":0.51394,"b":800,"g":-800,"r":31},{"t":0.514,"b":-800,"g":800,"r":-29},{"t":0.51406,"b":800,"g":-800,"r":30},{"t":0.51412,"b":-800,"g":800,"r":-30},{"t":0.51418,"b":800,"g":-800,"r":29},{"t":0.51424,"b":-800,"g":800,"r":-29},
{"t":0.5143,"b":800,"g":-800,"r":28},{"t":0.51436,"b":-800,"g":800,"r":-28},{"t":0.51442,"b":800,"g":-800,"r":27},{"t":0.51448,"b":-800,"g":800,"r":-26},{"t":0.51454,"b":800,"g":-800,"r":26},{"t":0.5146,"b":-800,"g":800,"r":-25},{"t":0.51466,"b":800,"g":-800,"r":25},{"t":0.51472,"b":-800,"g":800,"r":-23},{"t":0.51478,"b":800,"g":-800,"r":24},{"t":0.51484,"b":-800,"g":800,"r":-21},
{"t":0.5149,"b":800,"g":-800,"r":22},{"t":0.51496,"b":-800,"g":800,"r":-20},{"t":0.51502,"b":800,"g":-800,"r":21},{"t":0.51508,"b":-800,"g":800,"r":-19},{"t":0.51514,"b":800,"g":-800,"r":19},{"t":0.5152,"b":-800,"g":800,"r":-18},{"t":0.51526,"b":800,"g":-800,"r":18},{"t":0.51532,"b":-800,"g":800,"r":-17},{"t":0.51538,"b":800,"g":-800,"r":16},{"t":0.51544,"b":-800,"g":800,"r":-16},
{"t":0.5155,"b":800,"g":-800,"r":13},{"t":0.51556,"b":-800,"g":800,"r":-15},{"t":0.51562,"b":800,"g":-800,"r":11},{"t":0.51568,"b":-800,"g":800,"r":-13},{"t":0.51574,"b":800,"g":-800,"r":10},{"t":0.5158,"b":-800,"g":800,"r":-12},{"t":0.51586,"b":800,"g":-800,"r":9},{"t":0.51592,"b":-800,"g":800,"r":-12},{"t":0.51598,"b":800,"g":-800,"r":8},{"t":0.51604,"b":-800,"g":800,"r":-12},
{"t":0.5161,"b":800,"g":-800,"r":8},{"t":0.51616,"b":-800,"g":800,"r":-12},{"t":0.51622,"b":800,"g":-800,"r":10},{"t":0.51628,"b":-800,"g":800,"r":-12},{"t":0.51634,"b":800,"g":-800,"r":12},{"t":0.5164,"b":-800,"g":800,"r":-13},{"t":0.51646,"b":800,"g":-800,"r":14},{"t":0.51652,"b":-800,"g":800,"r":-13},{"t":0.51658,"b":800,"g":-800,"r":16},{"t":0.51664,"b":-800,"g":800,"r":-14},
{"t":0.5167,"b":800,"g":-800,"r":18},{"t":0.51676,"b":-800,"g":800,"r":-15},{"t":0.51682,"b":800,"g":-800,"r":19},{"t":0.51688,"b":-800,"g":800,"r":-16},{"t":0.51694,"b":800,"g":-800,"r":21},{"t":0.517,"b":-800,"g":800,"r":-17},{"t":0.51706,"b":800,"g":-800,"r":23},{"t":0.51712,"b":-800,"g":800,"r":-18},{"t":0.51718,"b":800,"g":-800,"r":24},{"t":0.51724,"b":-800,"g":800,"r":-19},
{"t":0.5173,"b":800,"g":-800,"r":25},{"t":0.51736,"b":-800,"g":800,"r":-19},{"t":0.51742,"b":800,"g":-800,"r":26},{"t":0.51748,"b":-800,"g":800,"r":-20},{"t":0.51754,"b":800,"g":-800,"r":26},{"t":0.5176,"b":-800,"g":800,"r":-20}
 ],
 "inset": [
{"s":"b","t":0.51377,"v":1581},{"s":"b","t":0.51383,"v":2285},{"s":"b","t":0.51411,"v":1581},{"s":"b","t":0.51439,"v":2285},{"s":"b","t":0.51467,"v":1581},{"s":"b","t":0.51496,"v":2285},{"s":"b","t":0.51524,"v":1581},{"s":"b","t":0.51552,"v":2285},{"s":"b","t":0.5158,"v":1581},{"s":"b","t":0.51608,"v":2285},{"s":"b","t":0.51636,"v":1581},{"s":"b","t":0.51648,"v":1581},
{"s":"g","t":0.51377,"v":1581},{"s":"g","t":0.51391,"v":2285},{"s":"g","t":0.51419,"v":1581},{"s":"g","t":0.51447,"v":2285},{"s":"g","t":0.51475,"v":1581},{"s":"g","t":0.51504,"v":2285},{"s":"g","t":0.51532,"v":1581},{"s":"g","t":0.5156,"v":2285},{"s":"g","t":0.51588,"v":1581},{"s":"g","t":0.51616,"v":2285},{"s":"g","t":0.51644,"v":1581},{"s":"g","t":0.51648,"v":1581},
{"s":"r","t":0.51377,"v":1419},{"s":"r","t":0.51383,"v":1419},{"s":"r","t":0.51393,"v":2344},{"s":"r","t":0.51411,"v":2344},{"s":"r","t":0.51421,"v":1419},{"s":"r","t":0.51439,"v":1419},{"s":"r","t":0.51449,"v":2344},{"s":"r","t":0.51467,"v":2344},{"s":"r","t":0.51477,"v":1419},{"s":"r","t":0.51496,"v":1419},{"s":"r","t":0.51506,"v":2344},{"s":"r","t":0.51524,"v":2344},{"s":"r","t":0.51534,"v":1419},{"s":"r","t":0.51552,"v":1419},{"s":"r","t":0.51562,"v":2344},{"s":"r","t":0.5158,"v":2344},{"s":"r","t":0.5159,"v":1419},{"s":"r","t":0.51608,"v":1419},{"s":"r","t":0.51618,"v":2344},{"s":"r","t":0.51636,"v":2344},{"s":"r","t":0.51646,"v":1419},{"s":"r","t":0.51648,"v":1419}
 ],
 "fbox": [{"t":0.51377,"t2":0.51648,"v":1380,"v2":2815}],
 "ell": [{"t":0.51293,"v":-167}],
 "arrow": [{"t":0.51318,"t2":0.51341,"v":1085,"v2":1307}],
 "head": [{"t":0.51351,"v":1380}],
 "none": []
},
"bounds": "flush",
"spacing": 0,
"resolve": {"scale": {"color": "independent", "strokeDash": "independent"}, "legend": {"color": "independent", "strokeDash": "independent"}},
"vconcat": [
   {
    "width": 475, "height": 135,
    "data": {"name": "main"},
    "transform": [{"fold": ["y", "b", "r"], "as": ["ph", "v"]}],
    "mark": {"type": "line", "strokeWidth": 1, "clip": true},
    "encoding": {
     "x": {"field": "t", "type": "quantitative", "scale": {"domain": [0.2, 1.2], "nice": false, "zero": false},
           "axis": {"values": [0.3,0.4,0.5,0.6,0.7,0.8,0.9,1.0,1.1], "format": ".1f", "labelExpr": "(datum.label == '0.4' || datum.label == '0.6' || datum.label == '0.8' || datum.label == '1.0') ? datum.label + 's' : ''", "title": "I/A", "titleY": -135.7}},
     "y": {"field": "v", "type": "quantitative", "scale": {"domain": [-400, 400], "nice": false, "zero": false},
           "axis": {"title": "(a)", "titleY": 61.8, "values": [-300,-200,-100,0,100,200,300], "labelExpr": "datum.value % 200 == 0 ? '' + datum.value : ''"}},
     "color": {"field": "ph", "type": "nominal", "scale": {"domain": ["y", "b", "r"], "range": ["#f5d02a", "#2b7bd0", "#ff1a1a"]}, "legend": null}
    }
   },
   {"width": 475, "height": 16.6, "data": {"name": "none"}, "mark": "point", "view": {"stroke": null}},
   {
    "width": 475, "height": 136,
    "encoding": {
     "x": {"field": "t", "type": "quantitative", "scale": {"domain": [0.2, 1.2], "nice": false, "zero": false},
           "axis": {"values": [0.3,0.4,0.5,0.6,0.7,0.8,0.9,1.0,1.1], "format": ".1f", "labelExpr": "(datum.label == '0.4' || datum.label == '0.6' || datum.label == '0.8' || datum.label == '1.0') ? datum.label + 's' : ''", "title": "U/kV", "titleX": -9, "titleY": -135.3}}
    },
    "layer": [
     {
      "data": {"name": "bu"},
      "mark": {"type": "line", "strokeWidth": 1.8, "clip": true},
      "encoding": {
       "y": {"field": "v", "type": "quantitative", "scale": {"domain": [14, 24], "nice": false, "zero": false},
             "axis": {"orient": "left", "title": "(b)", "titleY": 70, "values": [15,16,17,18,19,20,21,22,23], "labelExpr": "(datum.value == 18 || datum.value == 20 || datum.value == 22) ? '' + datum.value : ''"}},
       "color": {"datum": "MVdc voltage", "type": "nominal", "scale": {"domain": ["MVdc voltage", "MVdc current"], "range": ["#2b7bd0", "#ff1a1a"]},
                 "legend": {"orient": "none", "legendX": 31.5, "legendY": 3.4, "title": null, "symbolType": "M-2.5,0H2.5", "symbolSize": 296, "symbolStrokeWidth": 3, "labelFontSize": 18.5, "labelOffset": 20.5, "rowPadding": 5, "padding": 0,
                            "encode": {"labels": {"update": {"fill": {"signal": "datum.label == 'MVdc voltage' ? '#2b7bd0' : '#ff1a1a'"}}}}}}
      }
     },
     {
      "data": {"name": "bi"},
      "mark": {"type": "line", "strokeWidth": 1.2, "clip": true},
      "encoding": {
       "y": {"field": "v", "type": "quantitative", "scale": {"domain": [-50, 200], "nice": false, "zero": false},
             "axis": {"orient": "right", "title": "I/A", "titleX": 23.5, "titleY": 0.7, "values": [0, 50, 100], "labelExpr": "'' + datum.value"}},
       "color": {"datum": "MVdc current", "type": "nominal"}
      }
     }
    ],
    "resolve": {"scale": {"y": "independent"}}
   },
   {"width": 475, "height": 19, "data": {"name": "none"}, "mark": "point", "view": {"stroke": null}},
   {
    "width": 475, "height": 136.7,
    "encoding": {
     "x": {"field": "t", "type": "quantitative", "scale": {"domain": [0.2, 1.2], "nice": false, "zero": false},
           "axis": {"values": [0.3,0.4,0.5,0.6,0.7,0.8,0.9,1.0,1.1], "format": ".1f", "labelExpr": "(datum.label == '0.4' || datum.label == '0.6' || datum.label == '0.8' || datum.label == '1.0') ? datum.label + 's' : ''", "title": "U/V", "titleX": -9, "titleY": -137.5}}
    },
    "layer": [
     {
      "data": {"name": "cu"},
      "mark": {"type": "line", "strokeWidth": 2, "clip": true},
      "encoding": {
       "y": {"field": "v", "type": "quantitative", "scale": {"domain": [370, 868], "nice": false, "zero": false},
             "axis": {"orient": "left", "title": "(c)", "titleY": 67, "values": [400,450,500,550,600,650,700,750,800,850], "labelExpr": "(datum.value >= 500 && datum.value % 100 == 0) ? '' + datum.value : ''"}},
       "color": {"datum": "LVdc voltage", "type": "nominal", "scale": {"domain": ["LVdc voltage", "LVdc current"], "range": ["#2b7bd0", "#ff1a1a"]},
                 "legend": {"orient": "none", "legendX": 23.5, "legendY": 60, "title": null, "symbolType": "M-2.5,0H2.5", "symbolSize": 296, "symbolStrokeWidth": 3, "labelFontSize": 18.5, "labelOffset": 24, "rowPadding": 5.7, "padding": 0,
                            "encode": {"labels": {"update": {"fill": {"signal": "datum.label == 'LVdc voltage' ? '#2b7bd0' : '#ff1a1a'"}}}}}}
      }
     },
     {
      "data": {"name": "ci"},
      "mark": {"type": "line", "strokeWidth": 1.2, "clip": true},
      "encoding": {
       "y": {"field": "v", "type": "quantitative", "scale": {"domain": [-1.773, 2.133], "nice": false, "zero": false},
             "axis": {"orient": "right", "title": "I/kA", "titleX": 28, "titleY": -0.8, "values": [-1.2, 0, 1.2], "labelExpr": "'' + datum.value"}},
       "color": {"datum": "LVdc current", "type": "nominal"}
      }
     }
    ],
    "resolve": {"scale": {"y": "independent"}}
   },
   {"width": 475, "height": 10, "data": {"name": "none"}, "mark": "point", "view": {"stroke": null}},
   {
    "width": 475, "height": 136.7,
    "data": {"name": "d"},
    "mark": {"type": "line", "strokeWidth": 1.3, "color": "#2b7bd0", "clip": true},
    "encoding": {
     "x": {"field": "t", "type": "quantitative", "scale": {"domain": [0.2, 1.2], "nice": false, "zero": false},
           "axis": {"values": [0.3,0.4,0.5,0.6,0.7,0.8,0.9,1.0,1.1], "format": ".1f", "labelExpr": "(datum.label == '0.4' || datum.label == '0.6' || datum.label == '0.8' || datum.label == '1.0') ? datum.label + 's' : ''", "title": "U/V", "titleX": -9, "titleY": -135.7}},
     "y": {"field": "v", "type": "quantitative", "scale": {"domain": [400, 1200], "nice": false, "zero": false},
           "axis": {"title": "(d)", "titleY": 71, "values": [500,600,700,800,900,1000,1100], "labelExpr": "(datum.value == 600 || datum.value == 800 || datum.value == 1000) ? '' + datum.value : ''"}}
    }
   },
   {"width": 475, "height": 14.3, "data": {"name": "none"}, "mark": "point", "view": {"stroke": null}},
   {
    "width": 475, "height": 137.3,
    "data": {"name": "main"},
    "transform": [{"fold": ["ey", "eb", "er"], "as": ["ph", "v"]}],
    "mark": {"type": "line", "strokeWidth": 1, "clip": true},
    "encoding": {
     "x": {"field": "t", "type": "quantitative", "scale": {"domain": [0.2, 1.2], "nice": false, "zero": false},
           "axis": {"values": [0.3,0.4,0.5,0.6,0.7,0.8,0.9,1.0,1.1], "format": ".1f", "labelExpr": "(datum.label == '0.4' || datum.label == '0.6' || datum.label == '0.8' || datum.label == '1.0') ? datum.label + 's' : ''", "title": "I/A", "titleX": -9, "titleY": -132.3}},
     "y": {"field": "v", "type": "quantitative", "scale": {"domain": [-60, 40], "nice": false, "zero": false},
           "axis": {"title": "(e)", "titleY": 57, "values": [-50,-40,-30,-20,-10,0,10,20,30], "labelExpr": "datum.value % 20 == 0 ? '' + datum.value : ''"}},
     "color": {"field": "ph", "type": "nominal", "scale": {"domain": ["ey", "eb", "er"], "range": ["#f5d02a", "#2b7bd0", "#ff1a1a"]}, "legend": null}
    }
   },
   {"width": 475, "height": 11.7, "data": {"name": "none"}, "mark": "point", "view": {"stroke": null}},
   {
    "width": 475, "height": 137,
    "encoding": {
     "x": {"field": "t", "type": "quantitative", "scale": {"domain": [0.50827, 0.51759], "nice": false, "zero": false},
           "axis": {"values": [0.509,0.51,0.511,0.512,0.513,0.514,0.515,0.516,0.517], "format": ".3f", "labelExpr": "datum.label == '0.510' ? '0.51s' : ((datum.label == '0.512' || datum.label == '0.514' || datum.label == '0.516') ? datum.label + 's' : '')", "title": "U/V", "titleX": -9, "titleY": -131}}
    },
    "layer": [
     {
      "data": {"name": "f"},
      "transform": [{"fold": ["b", "g"], "as": ["s", "v"]}],
      "encoding": {
       "y": {"field": "v", "type": "quantitative", "scale": {"domain": [-2060, 3010], "nice": false, "zero": false},
             "axis": {"orient": "left", "title": "(f)", "titleY": 74, "values": [-2000,-1000,0,1000,2000], "labelExpr": "abs(datum.value) <= 1000 ? '' + datum.value : ''"}}
      },
      "layer": [
       {
        "transform": [{"filter": "datum.s == 'b'"}],
        "mark": {"type": "line", "interpolate": "step-after", "strokeWidth": 1, "clip": true},
        "encoding": {
         "color": {"datum": "DAB voltage", "type": "nominal", "scale": {"domain": ["DAB current", "DAB voltage"], "range": ["#ff1a1a", "#2b7bd0"]},
                   "legend": {"orient": "none", "legendX": 21, "legendY": -1.5, "title": null, "symbolType": "M-2.5,0H2.5", "symbolSize": 324, "symbolStrokeWidth": 3, "labelFontSize": 18.5, "labelOffset": 23.7, "rowPadding": -1, "padding": 0,
                              "encode": {"labels": {"update": {"fill": {"signal": "datum.label == 'DAB voltage' ? '#2b7bd0' : '#ff1a1a'"}}}}}}
        }
       },
       {
        "transform": [{"filter": "datum.s == 'g'"}],
        "mark": {"type": "line", "interpolate": "step-after", "strokeWidth": 1, "color": "#3a9a5c", "clip": true},
        "encoding": {
         "strokeDash": {"datum": "g", "type": "nominal", "scale": {"domain": ["g"], "range": [[1, 0]]},
                        "legend": {"orient": "none", "legendX": 21, "legendY": 25.5, "title": null, "symbolType": "M-2.5,0H2.5", "symbolSize": 324, "symbolStrokeWidth": 3, "symbolStrokeColor": "#3a9a5c", "labelExpr": "''", "labelFontSize": 2, "padding": 0}}
        }
       }
      ]
     },
     {
      "data": {"name": "f"},
      "mark": {"type": "line", "interpolate": "step-after", "strokeWidth": 1, "clip": true},
      "encoding": {
       "y": {"field": "r", "type": "quantitative", "scale": {"domain": [-82.4, 120.4], "nice": false, "zero": false},
             "axis": {"orient": "right", "title": "I/A", "titleX": 22.5, "titleY": 6, "values": [-40, 0, 40, 80], "labelExpr": "'' + datum.value"}},
       "color": {"datum": "DAB current", "type": "nominal"}
      }
     },
     {
      "encoding": {
       "y": {"field": "v", "type": "quantitative", "scale": {"domain": [-2060, 3010], "nice": false, "zero": false}, "axis": null}
      },
      "layer": [
       {"data": {"name": "fbox"}, "mark": {"type": "rect", "fill": "white", "stroke": "#e3e3e3", "strokeWidth": 1}, "encoding": {"x2": {"field": "t2"}, "y2": {"field": "v2"}}},
       {"data": {"name": "inset"}, "transform": [{"filter": "datum.s == 'b'"}], "mark": {"type": "line", "interpolate": "step-after", "stroke": "#8a9ce8", "strokeWidth": 1}},
       {"data": {"name": "inset"}, "transform": [{"filter": "datum.s == 'g'"}], "mark": {"type": "line", "interpolate": "step-after", "stroke": "#9fd0a6", "strokeWidth": 1}},
       {"data": {"name": "inset"}, "transform": [{"filter": "datum.s == 'r'"}], "mark": {"type": "line", "stroke": "#f59a9a", "strokeWidth": 1}},
       {"data": {"name": "ell"}, "mark": {"type": "point", "shape": "M0,-1A0.41,1,0,1,1,0,1A0.41,1,0,1,1,0,-1Z", "size": 5041, "filled": false, "stroke": "#111111", "strokeWidth": 1.4, "strokeDash": [4, 3], "opacity": 1}},
       {"data": {"name": "arrow"}, "mark": {"type": "rule", "stroke": "#111111", "strokeWidth": 1.4, "strokeDash": [4, 3]}, "encoding": {"x2": {"field": "t2"}, "y2": {"field": "v2"}}},
       {"data": {"name": "head"}, "mark": {"type": "point", "shape": "triangle-right", "size": 90, "filled": true, "fill": "#111111", "angle": -25, "opacity": 1}}
      ]
     }
    ],
    "resolve": {"scale": {"y": "independent"}}
   }
]
}
